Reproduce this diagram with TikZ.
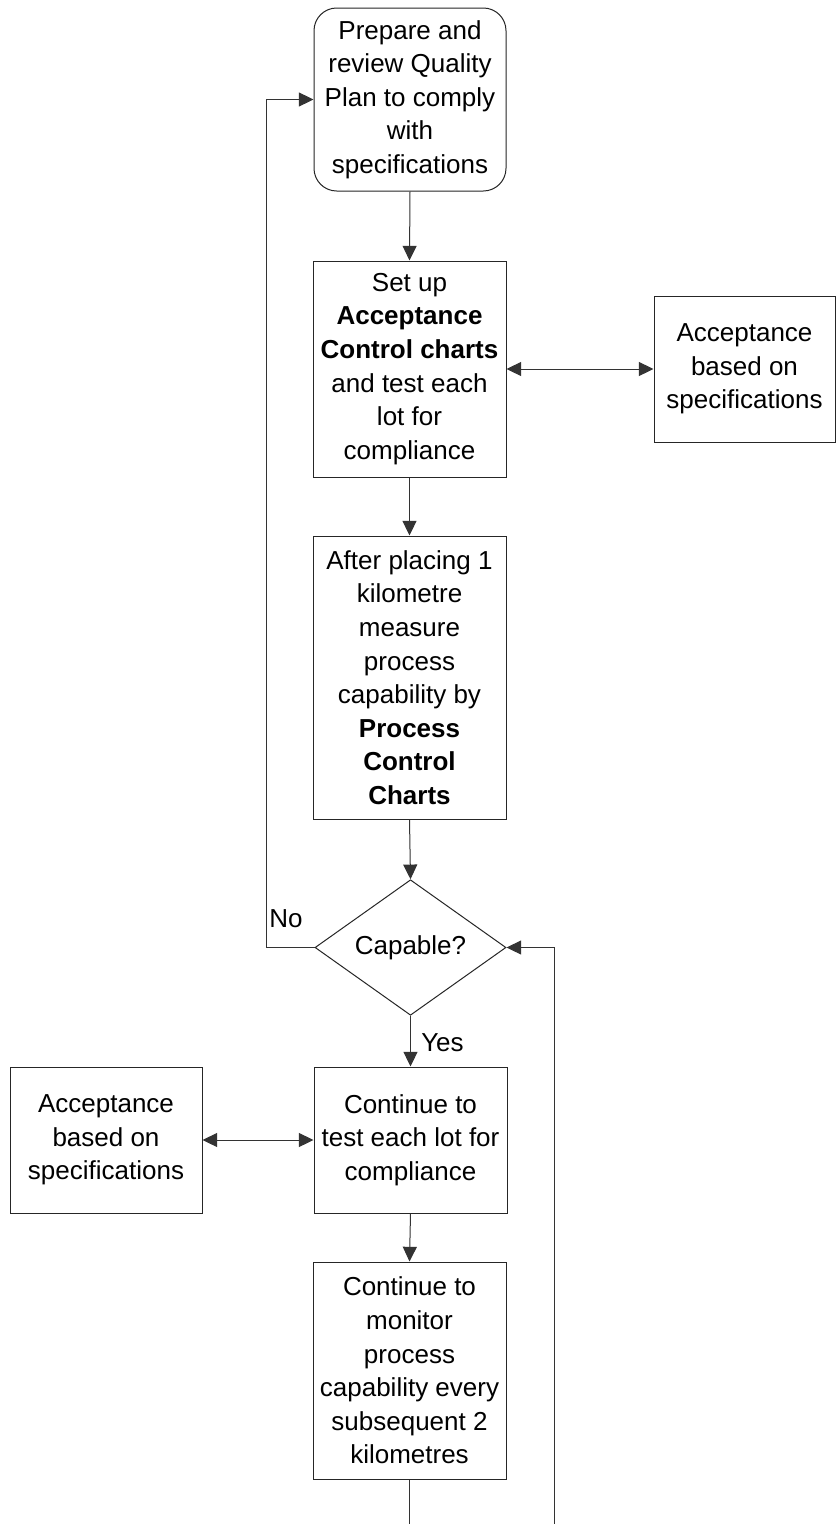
\documentclass[tikz,border=0pt]{standalone}
\usepackage{fontspec}
\setmainfont{Liberation Sans}
\usetikzlibrary{arrows.meta,shapes.geometric}
\begin{document}
\begin{tikzpicture}[x=0.75pt,y=-0.75pt,
  every node/.style={font=\fontsize{19.5pt}{25.2pt}\selectfont},
  proc/.style={draw=black!85,line width=0.75pt,rectangle,inner sep=0pt,align=center},
  term/.style={proc,rounded corners=17pt},
  decide/.style={draw=black!85,line width=0.75pt,diamond,inner sep=0pt,align=center},
  conn/.style={draw=black!80,line width=0.75pt,-{Triangle[length=11pt,width=10.5pt]}},
  dconn/.style={draw=black!80,line width=0.75pt,{Triangle[length=11pt,width=10.5pt]}-{Triangle[length=11pt,width=10.5pt]}},
  plain/.style={draw=black!80,line width=0.75pt},
  lbl/.style={inner sep=0pt,anchor=west}]
\useasboundingbox (0,0) rectangle (836,1524);
\fill[white] (0,0) rectangle (836,1524);

\node[term,minimum width=192*0.75pt,minimum height=183*0.75pt] (top) at (410,99.5)
  {Prepare and\\review Quality\\Plan to comply\\with\\specifications};
\node[proc,minimum width=193*0.75pt,minimum height=216*0.75pt] (setup) at (409.5,369)
  {Set up\\\textbf{Acceptance}\\\textbf{Control charts}\\and test each\\lot for\\compliance};
\node[proc,minimum width=181*0.75pt,minimum height=146*0.75pt] (accR) at (744.5,369)
  {Acceptance\\based on\\specifications};
\node[proc,minimum width=193*0.75pt,minimum height=283*0.75pt] (after) at (409.5,677.5)
  {After placing 1\\kilometre\\measure\\process\\capability by\\\textbf{Process}\\\textbf{Control}\\\textbf{Charts}};
\node[decide,minimum width=191*0.75pt,minimum height=129*0.75pt] (cap) at (410.5,947.5)
  {Capable?};
\node[proc,minimum width=193*0.75pt,minimum height=146*0.75pt] (cont) at (410.5,1140)
  {Continue to\\test each lot for\\compliance};
\node[proc,minimum width=192*0.75pt,minimum height=146*0.75pt] (accL) at (106,1140)
  {Acceptance\\based on\\specifications};
\node[proc,minimum width=193*0.75pt,minimum height=217*0.75pt] (mon) at (409.5,1370.5)
  {Continue to\\monitor\\process\\capability every\\subsequent 2\\kilometres};

\coordinate (noTurn) at (266,947.5);
\coordinate (botL) at (409.5,1524);
\coordinate (botR) at (554,1524);

\draw[conn] (top.south) -- (setup.north);
\draw[dconn] (setup.east) -- (accR.west);
\draw[conn] (setup.south) -- (after.north);
\draw[conn] (after.south) -- (cap.north);
\draw[conn] (cap.west) -- (noTurn) |- (top.west);
\draw[conn] (cap.south) -- (cont.north);
\draw[dconn] (accL.east) -- (cont.west);
\draw[conn] (cont.south) -- (mon.north);
\draw[plain] (mon.south) -- (botL);
\draw[conn] (botR) |- (cap.east);

\node[lbl] (nolbl) at (269,919) {No};
\node[lbl] (yeslbl) at (421,1043) {Yes};
\end{tikzpicture}
\end{document}
